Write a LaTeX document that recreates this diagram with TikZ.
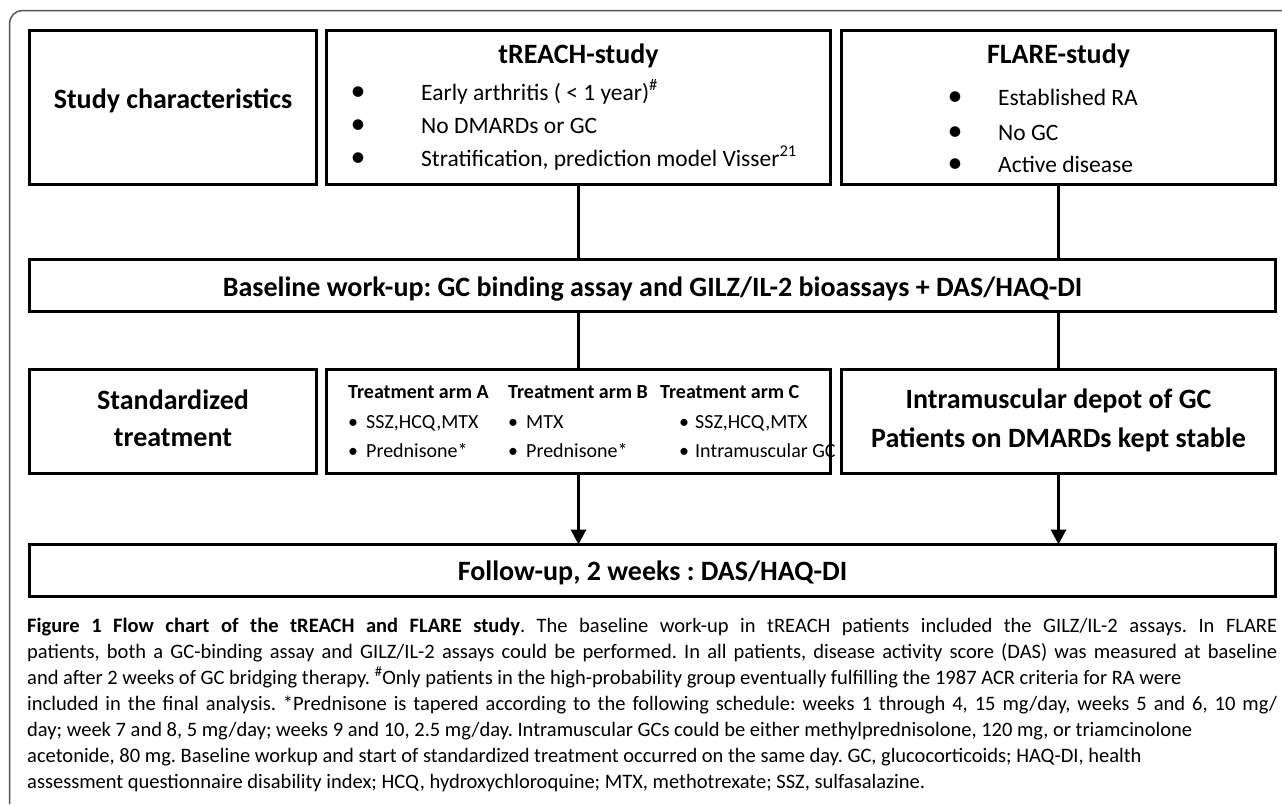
\documentclass[tikz,border=0pt]{standalone}
\usepackage{fontspec}
\setmainfont{Carlito}
\usetikzlibrary{arrows.meta}
\newcommand{\bigbul}{{\fontsize{30pt}{30pt}\selectfont •}}
\begin{document}
\frenchspacing
\begin{tikzpicture}[x=1pt,y=-1pt,
  box/.style={draw=black, line width=3pt, inner sep=0pt, outer sep=0pt},
  conn/.style={draw=black, line width=3pt},
  arr/.style={conn, -{Triangle[width=15pt,length=15pt]}},
  frame/.style={draw={rgb,255:red,85;green,85;blue,85}, line width=1.5pt},
  title/.style={font=\fontsize{28pt}{34pt}\selectfont\bfseries, inner sep=0pt, anchor=base},
  item/.style={font=\fontsize{23.5pt}{28pt}\selectfont, inner sep=0pt, anchor=base west},
  armhead/.style={font=\fontsize{20pt}{24pt}\selectfont\bfseries, inner sep=0pt, anchor=base west},
  armitem/.style={font=\fontsize{20pt}{24pt}\selectfont, inner sep=0pt, anchor=base west},
  caption/.style={font=\fontsize{20.5pt}{26pt}\selectfont\frenchspacing, inner sep=0pt, text width=1250pt, align=justify, anchor=north west}
]
\useasboundingbox (0,0) rectangle (1282,804);
\fill[white] (0,0) rectangle (1282,804);
% outer frame
\draw[frame, rounded corners=13pt] (9.5,804) |- (1282,10.5);

% top row boxes
\node[box, minimum width=287pt, minimum height=154pt] (b1) at (173,107.5) {};
\node[box, minimum width=504pt, minimum height=154pt] (b2) at (578.5,107.5) {};
\node[box, minimum width=434pt, minimum height=154pt] (b3) at (1058.5,107.5) {};
% baseline box
\node[box, minimum width=1246pt, minimum height=52pt] (base) at (652.5,285.5) {};
% lower boxes
\node[box, minimum width=287pt, minimum height=104pt] (std) at (173,421.5) {};
\node[box, minimum width=504pt, minimum height=104pt] (arms) at (578.5,421.5) {};
\node[box, minimum width=434pt, minimum height=104pt] (im) at (1058.5,421.5) {};
% follow-up box
\node[box, minimum width=1246pt, minimum height=52pt] (fu) at (652.5,570.5) {};

% connectors
\draw[conn] (b2.south) -- (b2.south |- base.north);
\draw[conn] (b3.south) -- (b3.south |- base.north);
\draw[conn] (arms.north |- base.south) -- (arms.north);
\draw[conn] (im.north |- base.south) -- (im.north);
\draw[arr] (arms.south) -- (arms.south |- fu.north);
\draw[arr] (im.south) -- (im.south |- fu.north);

% texts top row
\node[title] (tsc) at (173,108) {Study characteristics};
\node[title] (ttr) at (578.5,63) {tREACH-study};
\node[item] (tr1) at (350.5,100) {\makebox[70.5pt][l]{\bigbul}Early arthritis ( < 1 year)\textsuperscript{\#}};
\node[item] (tr2) at (350.5,133) {\makebox[70.5pt][l]{\bigbul}No DMARDs or GC};
\node[item] (tr3) at (350.5,166) {\makebox[70.5pt][l]{\bigbul}Stratification, prediction model Visser\textsuperscript{21}};
\node[title] (tfl) at (1058.5,63) {FLARE-study};
\node[item] (fl1) at (947.5,105) {\makebox[50.5pt][l]{\bigbul}Established RA};
\node[item] (fl2) at (947.5,140) {\makebox[50.5pt][l]{\bigbul}No GC};
\node[item] (fl3) at (947.5,172) {\makebox[50.5pt][l]{\bigbul}Active disease};

% baseline text
\node[title] (tbase) at (652.5,296) {Baseline work-up: GC binding assay and GILZ/IL-2 bioassays + DAS/HAQ-DI};

% lower row texts
\node[title] (tstd1) at (173,409) {Standardized};
\node[title] (tstd2) at (173,446) {treatment};
\node[armhead] (ha) at (348,398) {Treatment arm A};
\node[armhead] (hb) at (508,398) {Treatment arm B};
\node[armhead] (hc) at (660,398) {Treatment arm C};
\node[armitem] (a1) at (348,428) {\makebox[18pt][l]{•}SSZ,HCQ,MTX};
\node[armitem] (a2) at (348,457) {\makebox[18pt][l]{•}Prednisone*};
\node[armitem] (bb1) at (508,428) {\makebox[18pt][l]{•}MTX};
\node[armitem] (bb2) at (508,457) {\makebox[18pt][l]{•}Prednisone*};
\node[armitem] (c1) at (679,428) {\makebox[16pt][l]{•}SSZ,HCQ,MTX};
\node[armitem] (c2) at (679,457) {\makebox[16pt][l]{•}Intramuscular GC};
\node[title] (tim1) at (1058.5,408) {Intramuscular depot of GC};
\node[title] (tim2) at (1058.5,447) {Patients on DMARDs kept stable};

% follow-up text
\node[title] (tfu) at (652.5,580) {Follow-up, 2 weeks : DAS/HAQ-DI};

% caption
\node[caption] (cap) at (27,614) {\strut\textbf{Figure 1 Flow chart of the tREACH and FLARE study}. The baseline work-up in tREACH patients included the GILZ/IL-2 assays. In FLARE\linebreak
patients, both a GC-binding assay and GILZ/IL-2 assays could be performed. In all patients, disease activity score (DAS) was measured at baseline\linebreak
and after 2 weeks of GC bridging therapy. \textsuperscript{\#}Only patients in the high-probability group eventually fulfilling the 1987 ACR criteria for RA were\newline
included in the final analysis. *Prednisone is tapered according to the following schedule: weeks 1 through 4, 15 mg/day, weeks 5 and 6, 10 mg/\linebreak
day; week 7 and 8, 5 mg/day; weeks 9 and 10, 2.5 mg/day. Intramuscular GCs could be either methylprednisolone, 120 mg, or triamcinolone\newline
acetonide, 80 mg. Baseline workup and start of standardized treatment occurred on the same day. GC, glucocorticoids; HAQ-DI, health\newline
assessment questionnaire disability index; HCQ, hydroxychloroquine; MTX, methotrexate; SSZ, sulfasalazine.};
\end{tikzpicture}
\end{document}
